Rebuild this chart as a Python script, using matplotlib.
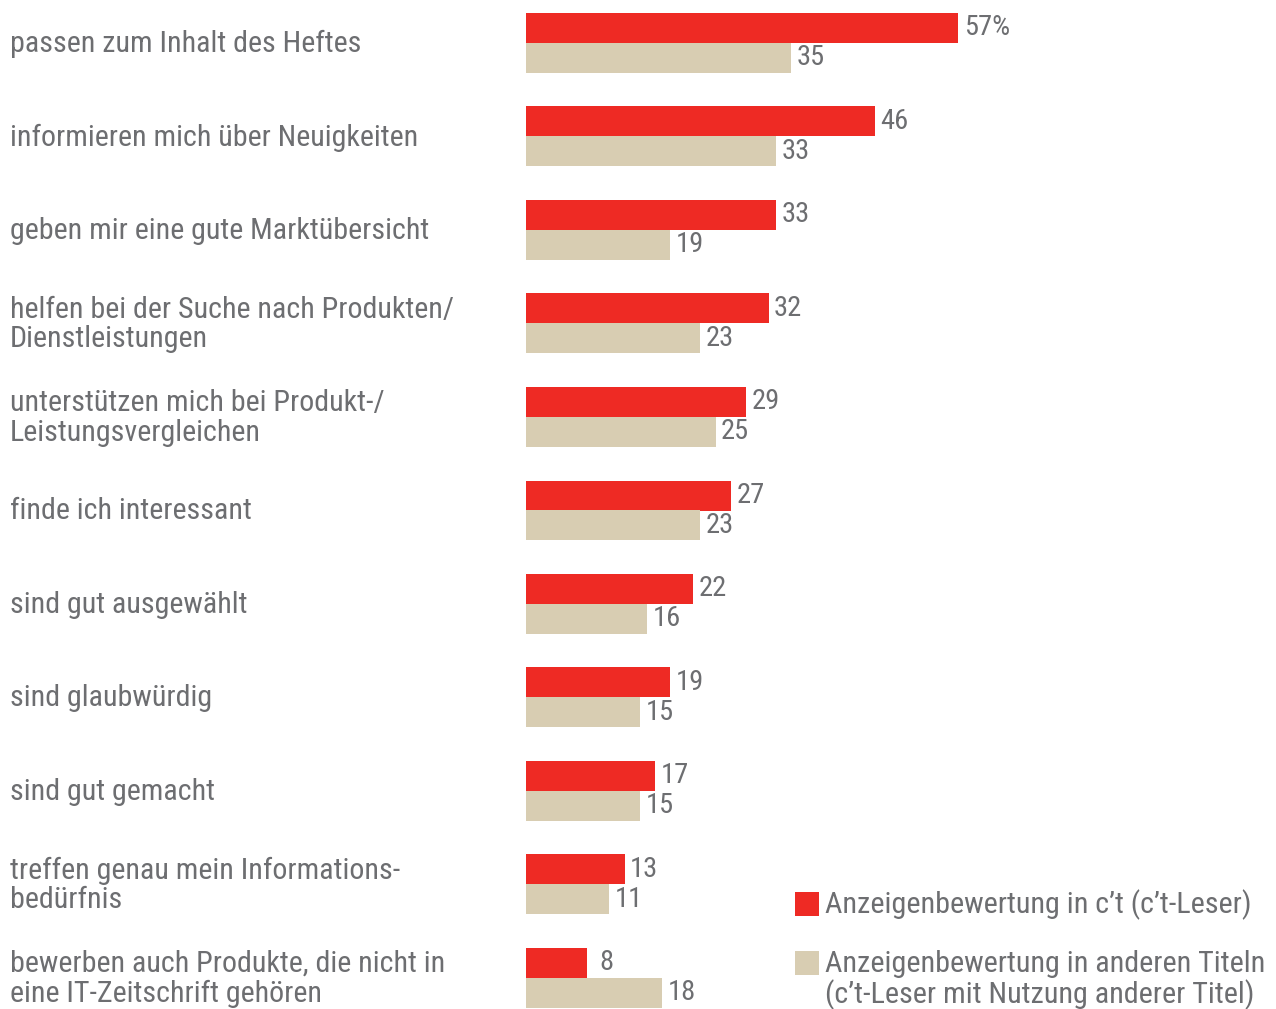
import matplotlib.pyplot as plt
from matplotlib.patches import Rectangle

# Aussagen zu Anzeigen, Anteile in Prozent
kategorien = [
    "passen zum Inhalt des Heftes",
    "informieren mich über Neuigkeiten",
    "geben mir eine gute Marktübersicht",
    "helfen bei der Suche nach Produkten/\nDienstleistungen",
    "unterstützen mich bei Produkt-/\nLeistungsvergleichen",
    "finde ich interessant",
    "sind gut ausgewählt",
    "sind glaubwürdig",
    "sind gut gemacht",
    "treffen genau mein Informations-\nbedürfnis",
    "bewerben auch Produkte, die nicht in\neine IT-Zeitschrift gehören",
]
ct_werte = [57, 46, 33, 32, 29, 27, 22, 19, 17, 13, 8]
andere_werte = [35, 33, 19, 23, 25, 23, 16, 15, 15, 11, 18]

legende = [
    "Anzeigenbewertung in c’t (c’t-Leser)",
    "Anzeigenbewertung in anderen Titeln\n(c’t-Leser mit Nutzung anderer Titel)",
]

ROT = "#ee2a24"
BEIGE = "#d8cdb2"
GRAU = "#6d6e71"

plt.rcParams['font.family'] = ['Roboto Condensed', 'DejaVu Sans']

W, H = 1276, 1009
fig = plt.figure(figsize=(W / 100, H / 100), dpi=100)
ax = fig.add_axes([0, 0, 1, 1])

# Skalen: 7.58 px pro Prozentpunkt, 93.5 px pro Gruppe
px_x = 7.58
x0 = 526
ax.set_xlim(-x0 / px_x, (W - x0) / px_x)
px_y = 93.5
y0 = 43
ax.set_ylim((H - y0) / px_y, -y0 / px_y)
ax.axis('off')

h = 30 / px_y
for i, (a, b) in enumerate(zip(ct_werte, andere_werte)):
    ax.barh(i - h / 2, a, height=h, color=ROT, linewidth=0)
    ax.barh(i + h / 2, b, height=h, color=BEIGE, linewidth=0)
    for v, y in ((a, i - h / 2), (b, i + h / 2)):
        txt = f"{v}%" if (i == 0 and v == a) else str(v)
        off = 4 if v >= 10 else 9
        ax.annotate(txt, (v, y), xytext=(off, 0), textcoords='offset points',
                    ha='left', va='center', fontsize=20.5, color=GRAU)
    ax.text(10 / W, i + 0.01, kategorien[i], transform=ax.get_yaxis_transform(),
            ha='left', va='center', fontsize=21.6, color=GRAU, linespacing=1.07)

# Legende: Kästchen plus Text, Zeilen einzeln auf Grundlinie gesetzt
for (basis, farbe, text) in ((913, ROT, legende[0]), (972, BEIGE, legende[1])):
    fig.patches.append(Rectangle((795 / W, 1 - (basis + 3) / H), 24 / W, 24 / H,
                                 transform=fig.transFigure, color=farbe, linewidth=0))
    for k, zeile in enumerate(text.split("\n")):
        fig.text(825 / W, 1 - (basis + 31 * k) / H, zeile, ha='left', va='baseline',
                 fontsize=21.7, color=GRAU)

fig.savefig("out.png", dpi=100)
